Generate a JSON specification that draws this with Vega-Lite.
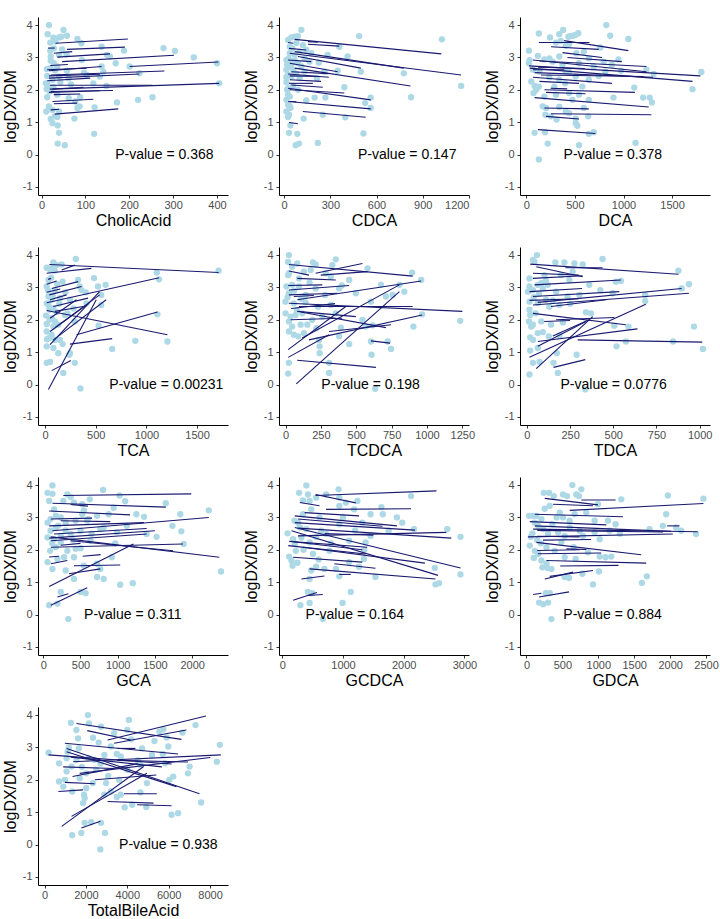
{
"$schema":"https://vega.github.io/schema/vega-lite/v6.json",
"padding":{"left":2,"top":17,"right":5,"bottom":5},
"bounds":"flush",
"columns":3,
"spacing":{"row":52,"column":51},
"config":{"view":{"stroke":null},"font":"Liberation Sans",
 "axis":{"grid":false,"labelOverlap":false,"tickCount":12,"domainColor":"#000000","tickColor":"#333333","labelColor":"#4d4d4d","labelFontSize":11,"titleFontSize":16,"titleFontWeight":"normal","titleColor":"#000000","tickSize":3,"labelPadding":1,"titlePadding":2,"labelFont":"Liberation Sans","titleFont":"Liberation Sans"},
 "axisY":{"labelPadding":3,"titlePadding":4},
 "text":{"font":"Liberation Sans"}},
"datasets":{
"p1":[{"x":17,"y":4.0},{"x":14,"y":3.72},{"x":50,"y":3.85},{"x":27,"y":3.61},{"x":40,"y":3.62},{"x":45,"y":3.64},{"x":58,"y":3.67},{"x":82,"y":3.57},{"x":20,"y":3.46},{"x":32,"y":3.49},{"x":91,"y":3.44},{"x":137,"y":3.33},{"x":20,"y":3.21},{"x":28,"y":3.28},{"x":47,"y":3.25},{"x":57,"y":3.1},{"x":40,"y":3.08},{"x":149,"y":3.08},{"x":156,"y":3.03},{"x":188,"y":3.21},{"x":278,"y":3.29},{"x":304,"y":3.2},{"x":347,"y":3.0},{"x":92,"y":2.92},{"x":21,"y":2.9},{"x":28,"y":2.82},{"x":12,"y":2.64},{"x":20,"y":2.67},{"x":36,"y":2.72},{"x":58,"y":2.59},{"x":97,"y":2.53},{"x":137,"y":2.72},{"x":169,"y":2.82},{"x":201,"y":2.72},{"x":223,"y":2.51},{"x":141,"y":2.56},{"x":400,"y":2.82},{"x":13,"y":2.43},{"x":25,"y":2.31},{"x":40,"y":2.41},{"x":62,"y":2.36},{"x":133,"y":2.41},{"x":13,"y":2.2},{"x":27,"y":2.08},{"x":43,"y":2.23},{"x":67,"y":2.17},{"x":148,"y":2.12},{"x":405,"y":2.2},{"x":12,"y":2.02},{"x":19,"y":1.95},{"x":13,"y":1.77},{"x":36,"y":1.85},{"x":62,"y":1.74},{"x":88,"y":1.77},{"x":77,"y":1.64},{"x":220,"y":1.69},{"x":253,"y":1.77},{"x":172,"y":1.61},{"x":17,"y":1.49},{"x":87,"y":1.49},{"x":82,"y":1.44},{"x":121,"y":1.46},{"x":11,"y":1.33},{"x":25,"y":1.38},{"x":40,"y":1.33},{"x":30,"y":1.18},{"x":36,"y":1.16},{"x":21,"y":1.1},{"x":75,"y":1.11},{"x":25,"y":0.97},{"x":37,"y":0.9},{"x":40,"y":0.67},{"x":120,"y":0.64},{"x":37,"y":0.34},{"x":53,"y":0.29},{"x":21,"y":3.03},{"x":13,"y":2.05},{"x":10,"y":2.2},{"x":103,"y":2.46},{"x":118,"y":2.2},{"x":21,"y":2.02},{"x":31,"y":2.6}],
"l1":[{"x":32,"y":3.44,"x2":197,"y2":3.57},{"x":58,"y":3.25,"x2":190,"y2":3.32},{"x":36,"y":3.01,"x2":156,"y2":3.11},{"x":47,"y":2.87,"x2":302,"y2":3.07},{"x":201,"y":2.72,"x2":403,"y2":2.86},{"x":17,"y":2.59,"x2":137,"y2":2.72},{"x":21,"y":2.46,"x2":280,"y2":2.58},{"x":17,"y":2.36,"x2":223,"y2":2.49},{"x":13,"y":2.28,"x2":111,"y2":2.36},{"x":19,"y":2.14,"x2":253,"y2":2.14},{"x":19,"y":2.02,"x2":405,"y2":2.2},{"x":17,"y":1.92,"x2":133,"y2":1.97},{"x":28,"y":1.85,"x2":88,"y2":1.87},{"x":25,"y":1.64,"x2":118,"y2":1.71},{"x":28,"y":1.57,"x2":81,"y2":1.59},{"x":21,"y":1.38,"x2":40,"y2":1.4},{"x":30,"y":1.25,"x2":175,"y2":1.41},{"x":17,"y":2.43,"x2":133,"y2":2.48},{"x":25,"y":2.02,"x2":96,"y2":2.08},{"x":13,"y":2.62,"x2":103,"y2":2.67},{"x":28,"y":3.13,"x2":70,"y2":3.18},{"x":21,"y":1.95,"x2":163,"y2":1.98},{"x":15,"y":3.29,"x2":30,"y2":3.29},{"x":20,"y":2.75,"x2":60,"y2":2.78}],
"p2":[{"x":112,"y":3.85},{"x":26,"y":3.54},{"x":47,"y":3.62},{"x":69,"y":3.64},{"x":90,"y":3.66},{"x":487,"y":3.66},{"x":1024,"y":3.56},{"x":359,"y":3.33},{"x":37,"y":3.33},{"x":122,"y":3.38},{"x":144,"y":3.23},{"x":412,"y":3.03},{"x":165,"y":2.87},{"x":225,"y":2.84},{"x":15,"y":2.62},{"x":262,"y":2.56},{"x":348,"y":2.59},{"x":498,"y":2.56},{"x":777,"y":2.51},{"x":213,"y":2.36},{"x":26,"y":2.05},{"x":15,"y":2.23},{"x":391,"y":2.08},{"x":1149,"y":2.12},{"x":37,"y":1.79},{"x":198,"y":1.76},{"x":268,"y":1.76},{"x":562,"y":1.76},{"x":824,"y":1.77},{"x":144,"y":1.67},{"x":26,"y":1.54},{"x":41,"y":1.44},{"x":15,"y":1.33},{"x":526,"y":1.59},{"x":562,"y":1.44},{"x":32,"y":1.23},{"x":251,"y":1.23},{"x":26,"y":1.16},{"x":127,"y":1.11},{"x":397,"y":1.15},{"x":41,"y":0.9},{"x":32,"y":0.67},{"x":86,"y":0.64},{"x":515,"y":0.65},{"x":75,"y":0.29},{"x":97,"y":0.34},{"x":219,"y":0.36},{"x":15,"y":2.92},{"x":32,"y":2.87},{"x":54,"y":2.82},{"x":69,"y":2.92},{"x":90,"y":2.82},{"x":112,"y":2.72},{"x":26,"y":2.46},{"x":47,"y":2.41},{"x":79,"y":2.49},{"x":101,"y":2.36},{"x":133,"y":2.56},{"x":58,"y":2.12},{"x":19,"y":2.0},{"x":90,"y":2.0},{"x":15,"y":1.69},{"x":101,"y":3.18},{"x":69,"y":3.08},{"x":37,"y":3.13},{"x":176,"y":3.13},{"x":133,"y":2.97},{"x":283,"y":3.08},{"x":15,"y":2.39},{"x":54,"y":3.28},{"x":30,"y":2.97},{"x":45,"y":2.7},{"x":60,"y":2.6},{"x":20,"y":2.78},{"x":80,"y":3.45},{"x":35,"y":1.5},{"x":25,"y":1.85}],
"l2":[{"x":155,"y":3.49,"x2":219,"y2":3.47},{"x":69,"y":3.56,"x2":1020,"y2":3.11},{"x":155,"y":3.41,"x2":358,"y2":3.35},{"x":37,"y":3.13,"x2":1149,"y2":2.46},{"x":69,"y":3.18,"x2":777,"y2":2.67},{"x":90,"y":3.03,"x2":498,"y2":2.67},{"x":37,"y":2.82,"x2":348,"y2":2.56},{"x":69,"y":2.67,"x2":820,"y2":2.12},{"x":47,"y":2.56,"x2":290,"y2":2.5},{"x":26,"y":2.49,"x2":290,"y2":2.39},{"x":37,"y":2.31,"x2":240,"y2":2.26},{"x":26,"y":2.05,"x2":562,"y2":1.69},{"x":37,"y":2.0,"x2":391,"y2":1.9},{"x":26,"y":1.64,"x2":562,"y2":1.41},{"x":122,"y":1.33,"x2":530,"y2":1.15},{"x":32,"y":0.99,"x2":90,"y2":0.95},{"x":47,"y":2.15,"x2":251,"y2":2.08},{"x":26,"y":2.92,"x2":176,"y2":2.87},{"x":32,"y":3.28,"x2":144,"y2":3.23},{"x":37,"y":2.43,"x2":230,"y2":2.41},{"x":32,"y":2.2,"x2":187,"y2":2.2},{"x":37,"y":1.64,"x2":80,"y2":1.63},{"x":26,"y":3.46,"x2":60,"y2":3.44}],
"p3":[{"x":823,"y":4.0},{"x":129,"y":3.74},{"x":244,"y":3.62},{"x":339,"y":3.72},{"x":379,"y":3.85},{"x":433,"y":3.64},{"x":455,"y":3.66},{"x":480,"y":3.67},{"x":508,"y":3.7},{"x":535,"y":3.75},{"x":863,"y":3.67},{"x":1050,"y":3.57},{"x":27,"y":3.21},{"x":305,"y":3.46},{"x":355,"y":3.51},{"x":406,"y":3.36},{"x":440,"y":3.41},{"x":762,"y":3.31},{"x":119,"y":3.05},{"x":186,"y":2.94},{"x":237,"y":2.97},{"x":27,"y":2.82},{"x":68,"y":2.62},{"x":51,"y":2.26},{"x":85,"y":2.12},{"x":102,"y":2.0},{"x":74,"y":1.9},{"x":129,"y":2.1},{"x":186,"y":1.79},{"x":169,"y":1.49},{"x":203,"y":1.44},{"x":196,"y":1.23},{"x":254,"y":1.18},{"x":339,"y":1.47},{"x":311,"y":1.08},{"x":406,"y":1.33},{"x":440,"y":1.28},{"x":508,"y":0.97},{"x":525,"y":0.89},{"x":508,"y":1.11},{"x":637,"y":1.18},{"x":592,"y":1.44},{"x":474,"y":1.69},{"x":643,"y":1.69},{"x":440,"y":1.9},{"x":400,"y":2.2},{"x":897,"y":1.76},{"x":1202,"y":1.76},{"x":1270,"y":1.76},{"x":1293,"y":1.61},{"x":1111,"y":2.07},{"x":1710,"y":2.02},{"x":1801,"y":2.55},{"x":1236,"y":2.62},{"x":1310,"y":2.49},{"x":975,"y":2.59},{"x":85,"y":0.67},{"x":193,"y":0.69},{"x":220,"y":0.34},{"x":694,"y":0.69},{"x":643,"y":0.64},{"x":542,"y":0.29},{"x":1124,"y":0.36},{"x":129,"y":-0.15},{"x":271,"y":2.87},{"x":372,"y":2.77},{"x":542,"y":2.82},{"x":694,"y":2.72},{"x":813,"y":2.56},{"x":880,"y":2.77},{"x":508,"y":2.41},{"x":643,"y":2.31},{"x":745,"y":2.43},{"x":339,"y":2.31},{"x":440,"y":2.56},{"x":237,"y":2.39},{"x":288,"y":2.1},{"x":135,"y":2.56},{"x":576,"y":2.1},{"x":643,"y":2.97},{"x":515,"y":3.13},{"x":592,"y":3.18},{"x":948,"y":2.94},{"x":796,"y":2.87},{"x":34,"y":2.92},{"x":339,"y":3.03},{"x":406,"y":2.56},{"x":305,"y":1.85},{"x":542,"y":1.85}],
"l3":[{"x":129,"y":3.46,"x2":650,"y2":3.46},{"x":389,"y":3.52,"x2":1050,"y2":3.21},{"x":254,"y":3.33,"x2":745,"y2":3.25},{"x":372,"y":3.15,"x2":779,"y2":3.0},{"x":423,"y":3.0,"x2":982,"y2":2.87},{"x":135,"y":2.89,"x2":1236,"y2":2.72},{"x":68,"y":2.92,"x2":1236,"y2":2.56},{"x":27,"y":2.74,"x2":1791,"y2":2.43},{"x":34,"y":2.67,"x2":1710,"y2":2.26},{"x":85,"y":2.53,"x2":1304,"y2":2.39},{"x":152,"y":2.46,"x2":1202,"y2":2.41},{"x":68,"y":2.39,"x2":880,"y2":2.2},{"x":135,"y":2.26,"x2":542,"y2":2.2},{"x":186,"y":2.0,"x2":1117,"y2":1.92},{"x":203,"y":1.92,"x2":609,"y2":1.88},{"x":85,"y":1.76,"x2":1260,"y2":1.47},{"x":186,"y":1.44,"x2":643,"y2":1.41},{"x":254,"y":1.26,"x2":1287,"y2":1.23},{"x":119,"y":0.77,"x2":711,"y2":0.65},{"x":203,"y":1.18,"x2":542,"y2":1.1},{"x":68,"y":2.62,"x2":390,"y2":2.62},{"x":250,"y":2.05,"x2":420,"y2":2.03},{"x":120,"y":2.7,"x2":600,"y2":2.66}],
"p4":[{"x":303,"y":3.88},{"x":16,"y":3.61},{"x":82,"y":3.77},{"x":114,"y":3.69},{"x":163,"y":3.71},{"x":50,"y":3.55},{"x":70,"y":3.6},{"x":95,"y":3.52},{"x":1712,"y":3.52},{"x":1102,"y":3.46},{"x":1125,"y":3.25},{"x":483,"y":3.29},{"x":326,"y":3.23},{"x":33,"y":3.23},{"x":16,"y":3.03},{"x":98,"y":2.92},{"x":173,"y":3.18},{"x":342,"y":3.03},{"x":522,"y":3.03},{"x":597,"y":3.08},{"x":401,"y":2.85},{"x":554,"y":2.77},{"x":359,"y":2.92},{"x":33,"y":2.72},{"x":65,"y":2.62},{"x":147,"y":2.67},{"x":245,"y":2.62},{"x":16,"y":2.51},{"x":42,"y":2.31},{"x":10,"y":2.13},{"x":65,"y":2.05},{"x":114,"y":2.24},{"x":16,"y":1.87},{"x":82,"y":1.79},{"x":130,"y":1.85},{"x":293,"y":1.95},{"x":528,"y":1.82},{"x":1109,"y":2.17},{"x":16,"y":1.64},{"x":65,"y":1.54},{"x":98,"y":1.38},{"x":42,"y":1.44},{"x":147,"y":1.38},{"x":16,"y":1.18},{"x":82,"y":1.13},{"x":130,"y":0.97},{"x":245,"y":0.97},{"x":173,"y":1.25},{"x":890,"y":1.35},{"x":1207,"y":1.33},{"x":662,"y":1.1},{"x":16,"y":0.67},{"x":49,"y":0.7},{"x":179,"y":0.36},{"x":293,"y":0.67},{"x":238,"y":0.92},{"x":349,"y":-0.12},{"x":554,"y":2.46},{"x":408,"y":2.51},{"x":33,"y":2.46},{"x":82,"y":2.36},{"x":98,"y":1.95},{"x":196,"y":2.15},{"x":60,"y":3.3},{"x":120,"y":3.1},{"x":200,"y":2.85},{"x":30,"y":2.9},{"x":75,"y":2.75},{"x":140,"y":2.5},{"x":45,"y":2.0},{"x":20,"y":1.4},{"x":220,"y":2.2},{"x":280,"y":2.35}],
"l4":[{"x":42,"y":3.71,"x2":1712,"y2":3.46},{"x":163,"y":3.54,"x2":293,"y2":3.69},{"x":16,"y":3.44,"x2":457,"y2":3.59},{"x":16,"y":3.1,"x2":114,"y2":3.2},{"x":42,"y":2.77,"x2":359,"y2":3.03},{"x":16,"y":2.53,"x2":1125,"y2":3.3},{"x":16,"y":2.29,"x2":1207,"y2":1.54},{"x":49,"y":2.05,"x2":310,"y2":2.62},{"x":82,"y":1.38,"x2":603,"y2":2.62},{"x":33,"y":-0.15,"x2":505,"y2":2.62},{"x":65,"y":0.43,"x2":254,"y2":0.74},{"x":245,"y":1.25,"x2":662,"y2":1.42},{"x":310,"y":1.54,"x2":1109,"y2":2.24},{"x":49,"y":1.23,"x2":538,"y2":2.87},{"x":98,"y":1.76,"x2":538,"y2":2.77},{"x":82,"y":2.41,"x2":424,"y2":2.67},{"x":49,"y":2.62,"x2":212,"y2":2.77},{"x":65,"y":2.97,"x2":326,"y2":3.18},{"x":98,"y":2.26,"x2":375,"y2":2.41},{"x":49,"y":1.64,"x2":408,"y2":2.46},{"x":16,"y":2.85,"x2":150,"y2":2.95},{"x":30,"y":3.25,"x2":60,"y2":3.28}],
"p5":[{"x":24,"y":4.0},{"x":19,"y":3.79},{"x":47,"y":3.64},{"x":83,"y":3.74},{"x":194,"y":3.77},{"x":213,"y":3.71},{"x":355,"y":3.87},{"x":331,"y":3.69},{"x":580,"y":3.59},{"x":895,"y":3.46},{"x":959,"y":3.23},{"x":19,"y":3.38},{"x":130,"y":3.49},{"x":178,"y":3.54},{"x":284,"y":3.44},{"x":320,"y":3.33},{"x":450,"y":3.23},{"x":7,"y":3.03},{"x":47,"y":3.08},{"x":95,"y":3.03},{"x":213,"y":2.97},{"x":379,"y":2.97},{"x":398,"y":3.06},{"x":675,"y":3.08},{"x":805,"y":3.08},{"x":24,"y":2.82},{"x":142,"y":2.77},{"x":279,"y":2.77},{"x":497,"y":2.82},{"x":710,"y":2.72},{"x":840,"y":2.87},{"x":0,"y":2.56},{"x":59,"y":2.51},{"x":142,"y":2.54},{"x":320,"y":2.46},{"x":604,"y":2.56},{"x":0,"y":2.2},{"x":36,"y":2.1},{"x":71,"y":2.15},{"x":118,"y":2.2},{"x":189,"y":2.0},{"x":260,"y":2.1},{"x":355,"y":2.2},{"x":544,"y":2.0},{"x":966,"y":2.17},{"x":1235,"y":1.97},{"x":24,"y":1.95},{"x":47,"y":1.79},{"x":107,"y":1.85},{"x":154,"y":1.85},{"x":218,"y":1.74},{"x":391,"y":1.76},{"x":568,"y":1.79},{"x":616,"y":1.83},{"x":904,"y":1.79},{"x":24,"y":1.64},{"x":59,"y":1.54},{"x":90,"y":1.49},{"x":130,"y":1.59},{"x":379,"y":1.49},{"x":237,"y":1.38},{"x":450,"y":1.25},{"x":604,"y":1.33},{"x":722,"y":1.33},{"x":241,"y":1.18},{"x":241,"y":0.97},{"x":608,"y":0.92},{"x":746,"y":1.1},{"x":24,"y":0.67},{"x":308,"y":0.67},{"x":19,"y":0.34},{"x":308,"y":0.36},{"x":634,"y":-0.13},{"x":24,"y":3.44},{"x":95,"y":3.28},{"x":757,"y":2.77},{"x":60,"y":2.9},{"x":110,"y":2.65},{"x":170,"y":3.15},{"x":230,"y":2.4},{"x":80,"y":2.3},{"x":15,"y":2.7}],
"l5":[{"x":24,"y":3.71,"x2":899,"y2":3.35},{"x":24,"y":3.51,"x2":166,"y2":3.38},{"x":213,"y":3.44,"x2":544,"y2":3.74},{"x":249,"y":3.38,"x2":580,"y2":3.49},{"x":83,"y":3.28,"x2":355,"y2":3.23},{"x":19,"y":3.06,"x2":260,"y2":3.08},{"x":24,"y":2.92,"x2":450,"y2":3.06},{"x":24,"y":2.77,"x2":367,"y2":2.82},{"x":83,"y":2.62,"x2":959,"y2":3.2},{"x":24,"y":2.51,"x2":1250,"y2":2.26},{"x":95,"y":2.41,"x2":899,"y2":2.41},{"x":107,"y":2.24,"x2":710,"y2":1.76},{"x":83,"y":2.26,"x2":497,"y2":2.1},{"x":118,"y":1.44,"x2":805,"y2":3.08},{"x":76,"y":0.02,"x2":805,"y2":2.87},{"x":19,"y":1.08,"x2":426,"y2":2.41},{"x":19,"y":0.84,"x2":308,"y2":1.54},{"x":83,"y":0.75,"x2":639,"y2":0.53},{"x":604,"y":1.35,"x2":739,"y2":1.28},{"x":166,"y":1.38,"x2":966,"y2":2.15},{"x":308,"y":1.64,"x2":746,"y2":1.85},{"x":36,"y":2.0,"x2":400,"y2":2.05},{"x":59,"y":2.72,"x2":200,"y2":2.75},{"x":40,"y":2.35,"x2":350,"y2":2.5}],
"p6":[{"x":58,"y":4.0},{"x":44,"y":3.79},{"x":35,"y":3.85},{"x":165,"y":3.77},{"x":217,"y":3.77},{"x":275,"y":3.74},{"x":323,"y":3.71},{"x":438,"y":3.88},{"x":877,"y":3.52},{"x":938,"y":3.1},{"x":896,"y":2.97},{"x":544,"y":3.2},{"x":515,"y":3.18},{"x":15,"y":3.28},{"x":6,"y":2.87},{"x":15,"y":3.03},{"x":35,"y":2.92},{"x":63,"y":3.08},{"x":92,"y":2.97},{"x":121,"y":3.08},{"x":169,"y":2.87},{"x":236,"y":2.72},{"x":304,"y":2.77},{"x":361,"y":3.08},{"x":425,"y":2.92},{"x":496,"y":2.82},{"x":685,"y":2.77},{"x":685,"y":2.58},{"x":15,"y":2.56},{"x":63,"y":2.51},{"x":111,"y":2.62},{"x":188,"y":2.46},{"x":15,"y":2.31},{"x":19,"y":2.15},{"x":12,"y":1.95},{"x":35,"y":1.85},{"x":25,"y":1.79},{"x":83,"y":1.95},{"x":140,"y":1.85},{"x":342,"y":2.23},{"x":371,"y":2.2},{"x":208,"y":1.92},{"x":506,"y":1.82},{"x":588,"y":1.79},{"x":967,"y":1.79},{"x":19,"y":1.46},{"x":35,"y":1.38},{"x":63,"y":1.59},{"x":92,"y":1.62},{"x":127,"y":1.49},{"x":188,"y":1.51},{"x":573,"y":1.33},{"x":846,"y":1.33},{"x":1019,"y":1.1},{"x":519,"y":1.18},{"x":19,"y":1.05},{"x":63,"y":1.13},{"x":173,"y":0.97},{"x":288,"y":0.92},{"x":35,"y":0.67},{"x":73,"y":0.7},{"x":154,"y":0.67},{"x":15,"y":0.31},{"x":179,"y":0.36},{"x":338,"y":-0.15},{"x":83,"y":3.13},{"x":246,"y":3.23},{"x":198,"y":3.38},{"x":265,"y":3.49},{"x":102,"y":3.38},{"x":40,"y":2.7},{"x":70,"y":2.8},{"x":130,"y":2.4},{"x":250,"y":2.5},{"x":50,"y":2.2},{"x":110,"y":3.2},{"x":150,"y":2.6}],
"l6":[{"x":19,"y":3.72,"x2":877,"y2":3.41},{"x":223,"y":3.61,"x2":438,"y2":3.61},{"x":54,"y":3.64,"x2":323,"y2":3.33},{"x":35,"y":3.44,"x2":300,"y2":3.38},{"x":35,"y":3.28,"x2":323,"y2":3.36},{"x":44,"y":3.08,"x2":544,"y2":3.23},{"x":15,"y":2.87,"x2":319,"y2":2.97},{"x":35,"y":2.72,"x2":535,"y2":2.87},{"x":63,"y":2.54,"x2":896,"y2":2.97},{"x":35,"y":2.46,"x2":938,"y2":2.82},{"x":140,"y":2.41,"x2":458,"y2":2.62},{"x":35,"y":2.2,"x2":573,"y2":1.85},{"x":169,"y":2.0,"x2":506,"y2":2.07},{"x":15,"y":0.84,"x2":688,"y2":2.48},{"x":54,"y":0.49,"x2":381,"y2":2.1},{"x":63,"y":1.33,"x2":640,"y2":1.72},{"x":294,"y":1.38,"x2":1015,"y2":1.31},{"x":154,"y":0.53,"x2":338,"y2":0.77},{"x":63,"y":1.18,"x2":342,"y2":1.95},{"x":150,"y":1.5,"x2":360,"y2":2.0},{"x":15,"y":2.6,"x2":300,"y2":2.65},{"x":100,"y":1.95,"x2":250,"y2":1.98}],
"p7":[{"x":58,"y":3.76},{"x":124,"y":3.99},{"x":124,"y":3.73},{"x":80,"y":3.51},{"x":324,"y":3.71},{"x":368,"y":3.63},{"x":625,"y":3.56},{"x":803,"y":3.85},{"x":1024,"y":3.68},{"x":270,"y":3.51},{"x":413,"y":3.46},{"x":523,"y":3.41},{"x":1645,"y":3.44},{"x":945,"y":3.3},{"x":1353,"y":3.02},{"x":1840,"y":3.1},{"x":2222,"y":3.22},{"x":58,"y":2.84},{"x":98,"y":2.95},{"x":169,"y":3.05},{"x":235,"y":3.0},{"x":302,"y":2.84},{"x":435,"y":2.9},{"x":523,"y":3.1},{"x":590,"y":2.9},{"x":723,"y":3.05},{"x":878,"y":3.1},{"x":98,"y":2.59},{"x":169,"y":2.69},{"x":58,"y":2.38},{"x":146,"y":2.33},{"x":235,"y":2.43},{"x":368,"y":2.49},{"x":501,"y":2.59},{"x":634,"y":2.28},{"x":767,"y":2.64},{"x":989,"y":2.54},{"x":1388,"y":2.49},{"x":1521,"y":2.4},{"x":1854,"y":2.57},{"x":1734,"y":2.74},{"x":93,"y":1.97},{"x":169,"y":2.08},{"x":235,"y":2.23},{"x":324,"y":1.97},{"x":435,"y":2.03},{"x":501,"y":2.05},{"x":967,"y":2.2},{"x":1885,"y":2.18},{"x":58,"y":1.62},{"x":124,"y":1.41},{"x":191,"y":1.72},{"x":280,"y":1.77},{"x":413,"y":1.77},{"x":546,"y":1.51},{"x":723,"y":1.57},{"x":922,"y":1.77},{"x":767,"y":1.41},{"x":302,"y":1.36},{"x":413,"y":1.1},{"x":723,"y":1.16},{"x":811,"y":1.1},{"x":1033,"y":0.92},{"x":1202,"y":0.97},{"x":2386,"y":1.33},{"x":235,"y":0.7},{"x":501,"y":0.7},{"x":568,"y":0.66},{"x":80,"y":0.29},{"x":191,"y":0.34},{"x":337,"y":-0.14},{"x":146,"y":3.25},{"x":546,"y":3.22},{"x":603,"y":2.95},{"x":811,"y":2.69},{"x":1122,"y":2.74},{"x":200,"y":2.75},{"x":120,"y":2.2},{"x":400,"y":2.3},{"x":650,"y":2.5},{"x":300,"y":2.6},{"x":1250,"y":3.1},{"x":1100,"y":3.5}],
"l7":[{"x":270,"y":3.68,"x2":1987,"y2":3.73},{"x":124,"y":3.44,"x2":1645,"y2":3.32},{"x":368,"y":3.4,"x2":600,"y2":3.35},{"x":80,"y":3.2,"x2":1167,"y2":3.08},{"x":102,"y":2.95,"x2":656,"y2":2.98},{"x":235,"y":2.9,"x2":900,"y2":2.87},{"x":80,"y":2.74,"x2":1353,"y2":2.84},{"x":124,"y":2.59,"x2":2222,"y2":3.0},{"x":146,"y":2.49,"x2":1388,"y2":2.66},{"x":80,"y":2.36,"x2":1499,"y2":2.59},{"x":102,"y":2.28,"x2":1388,"y2":2.49},{"x":102,"y":2.4,"x2":2364,"y2":1.77},{"x":368,"y":2.28,"x2":1743,"y2":1.97},{"x":102,"y":2.08,"x2":1876,"y2":2.18},{"x":102,"y":1.57,"x2":324,"y2":1.67},{"x":80,"y":0.87,"x2":1211,"y2":2.18},{"x":102,"y":0.29,"x2":590,"y2":0.83},{"x":413,"y":1.51,"x2":1033,"y2":1.53},{"x":346,"y":1.26,"x2":767,"y2":1.41},{"x":191,"y":0.54,"x2":337,"y2":0.64},{"x":80,"y":1.78,"x2":210,"y2":1.8},{"x":530,"y":1.8,"x2":770,"y2":1.85},{"x":235,"y":2.14,"x2":500,"y2":2.2}],
"p8":[{"x":87,"y":2.51},{"x":114,"y":1.79},{"x":152,"y":1.67},{"x":168,"y":1.51},{"x":179,"y":2.33},{"x":206,"y":2.18},{"x":222,"y":1.97},{"x":260,"y":2.84},{"x":288,"y":2.69},{"x":277,"y":3.76},{"x":396,"y":3.99},{"x":423,"y":3.71},{"x":450,"y":3.51},{"x":342,"y":3.53},{"x":477,"y":3.25},{"x":559,"y":3.61},{"x":722,"y":3.71},{"x":928,"y":3.87},{"x":939,"y":3.61},{"x":1047,"y":3.46},{"x":1237,"y":3.51},{"x":939,"y":3.36},{"x":1183,"y":3.25},{"x":1454,"y":3.1},{"x":1633,"y":3.32},{"x":1655,"y":3.1},{"x":1888,"y":3.0},{"x":315,"y":2.38},{"x":396,"y":2.64},{"x":450,"y":2.23},{"x":505,"y":1.87},{"x":559,"y":1.48},{"x":477,"y":1.36},{"x":450,"y":1.1},{"x":694,"y":1.41},{"x":884,"y":1.41},{"x":939,"y":1.18},{"x":1101,"y":1.62},{"x":1264,"y":1.48},{"x":1345,"y":1.72},{"x":1373,"y":2.23},{"x":1454,"y":2.43},{"x":1535,"y":1.16},{"x":1752,"y":2.59},{"x":1976,"y":2.84},{"x":2170,"y":2.64},{"x":2718,"y":2.64},{"x":2935,"y":2.4},{"x":2935,"y":1.24},{"x":2512,"y":1.44},{"x":2523,"y":0.93},{"x":2582,"y":0.97},{"x":2121,"y":3.66},{"x":1128,"y":0.7},{"x":993,"y":0.36},{"x":423,"y":0.7},{"x":494,"y":0.66},{"x":450,"y":0.36},{"x":298,"y":0.29},{"x":667,"y":-0.14},{"x":722,"y":2.49},{"x":939,"y":2.79},{"x":1101,"y":2.28},{"x":776,"y":1.97},{"x":613,"y":3.0},{"x":342,"y":3.1},{"x":640,"y":2.59},{"x":1318,"y":2.84},{"x":200,"y":2.9},{"x":350,"y":2.0},{"x":560,"y":2.4},{"x":800,"y":2.2},{"x":1000,"y":3.0},{"x":1200,"y":2.6},{"x":600,"y":1.7},{"x":250,"y":1.6},{"x":1350,"y":2.0}],
"l8":[{"x":548,"y":3.68,"x2":2539,"y2":3.82},{"x":548,"y":3.71,"x2":1210,"y2":3.45},{"x":288,"y":3.46,"x2":613,"y2":3.36},{"x":722,"y":3.25,"x2":2121,"y2":3.27},{"x":369,"y":3.15,"x2":1264,"y2":3.05},{"x":206,"y":3.05,"x2":1888,"y2":2.74},{"x":260,"y":2.95,"x2":1650,"y2":2.73},{"x":206,"y":2.84,"x2":2186,"y2":2.61},{"x":206,"y":2.69,"x2":2935,"y2":1.44},{"x":152,"y":2.59,"x2":2566,"y2":1.21},{"x":260,"y":2.67,"x2":2783,"y2":2.36},{"x":260,"y":2.43,"x2":2702,"y2":2.54},{"x":114,"y":2.26,"x2":1400,"y2":2.08},{"x":98,"y":2.13,"x2":1373,"y2":1.87},{"x":342,"y":2.08,"x2":2349,"y2":1.59},{"x":179,"y":1.77,"x2":1318,"y2":1.62},{"x":450,"y":1.41,"x2":2523,"y2":1.1},{"x":857,"y":1.57,"x2":1535,"y2":1.43},{"x":315,"y":1.1,"x2":694,"y2":1.19},{"x":179,"y":0.44,"x2":570,"y2":0.68},{"x":423,"y":0.59,"x2":667,"y2":0.62},{"x":939,"y":1.24,"x2":1128,"y2":1.24},{"x":700,"y":2.5,"x2":1500,"y2":2.45},{"x":179,"y":2.25,"x2":1318,"y2":2.0}],
"p9":[{"x":37,"y":3.05},{"x":93,"y":3.05},{"x":46,"y":2.13},{"x":83,"y":2.51},{"x":116,"y":2.84},{"x":139,"y":3.05},{"x":162,"y":2.74},{"x":208,"y":2.95},{"x":232,"y":2.64},{"x":116,"y":1.97},{"x":102,"y":1.75},{"x":162,"y":1.87},{"x":208,"y":1.67},{"x":222,"y":1.46},{"x":278,"y":1.57},{"x":255,"y":3.27},{"x":241,"y":3.76},{"x":315,"y":3.76},{"x":380,"y":3.66},{"x":509,"y":3.71},{"x":565,"y":3.66},{"x":639,"y":4.0},{"x":694,"y":3.71},{"x":731,"y":3.66},{"x":764,"y":3.87},{"x":995,"y":3.41},{"x":1320,"y":3.56},{"x":1968,"y":3.68},{"x":1945,"y":3.1},{"x":2463,"y":3.58},{"x":324,"y":3.36},{"x":463,"y":3.15},{"x":509,"y":3.0},{"x":671,"y":3.1},{"x":833,"y":3.15},{"x":949,"y":2.9},{"x":1134,"y":2.9},{"x":1241,"y":2.79},{"x":361,"y":2.79},{"x":440,"y":2.54},{"x":602,"y":2.69},{"x":741,"y":2.59},{"x":949,"y":2.54},{"x":1157,"y":2.59},{"x":1713,"y":2.64},{"x":1898,"y":2.74},{"x":2083,"y":2.69},{"x":2153,"y":2.59},{"x":2361,"y":2.49},{"x":787,"y":2.43},{"x":486,"y":2.23},{"x":657,"y":2.08},{"x":1019,"y":2.33},{"x":856,"y":1.92},{"x":532,"y":1.77},{"x":685,"y":1.72},{"x":1019,"y":1.79},{"x":1102,"y":1.77},{"x":1181,"y":1.79},{"x":292,"y":1.44},{"x":347,"y":1.41},{"x":532,"y":1.16},{"x":593,"y":1.13},{"x":778,"y":1.26},{"x":926,"y":0.93},{"x":1009,"y":1.33},{"x":1607,"y":0.98},{"x":1676,"y":1.18},{"x":269,"y":0.66},{"x":324,"y":0.66},{"x":176,"y":0.37},{"x":232,"y":0.32},{"x":301,"y":0.37},{"x":347,"y":-0.14},{"x":394,"y":1.97},{"x":532,"y":2.43},{"x":278,"y":2.08},{"x":60,"y":2.4},{"x":150,"y":2.3},{"x":300,"y":2.5},{"x":420,"y":3.0},{"x":600,"y":2.9},{"x":200,"y":2.2},{"x":1300,"y":2.5}],
"l9":[{"x":255,"y":3.59,"x2":995,"y2":3.39},{"x":764,"y":3.54,"x2":1241,"y2":3.54},{"x":370,"y":3.41,"x2":926,"y2":3.36},{"x":602,"y":3.22,"x2":2463,"y2":3.43},{"x":116,"y":3.1,"x2":1343,"y2":3.02},{"x":46,"y":2.87,"x2":1111,"y2":2.77},{"x":116,"y":2.74,"x2":2014,"y2":2.57},{"x":93,"y":2.64,"x2":2384,"y2":2.56},{"x":150,"y":2.6,"x2":1900,"y2":2.55},{"x":23,"y":2.4,"x2":2037,"y2":2.49},{"x":150,"y":2.42,"x2":740,"y2":2.4},{"x":139,"y":2.23,"x2":1597,"y2":1.85},{"x":150,"y":1.98,"x2":740,"y2":2.0},{"x":278,"y":1.67,"x2":1667,"y2":1.59},{"x":160,"y":1.88,"x2":1040,"y2":1.9},{"x":470,"y":1.5,"x2":1280,"y2":1.52},{"x":255,"y":1.1,"x2":648,"y2":1.31},{"x":324,"y":1.18,"x2":926,"y2":1.36},{"x":93,"y":0.62,"x2":208,"y2":0.66},{"x":176,"y":0.54,"x2":593,"y2":0.7},{"x":556,"y":2.03,"x2":833,"y2":2.01},{"x":1959,"y":2.74,"x2":2130,"y2":2.74},{"x":230,"y":2.3,"x2":900,"y2":2.32}],
"p10":[{"x":190,"y":2.84},{"x":698,"y":2.51},{"x":698,"y":1.95},{"x":904,"y":1.79},{"x":983,"y":2.0},{"x":1063,"y":2.26},{"x":1110,"y":2.87},{"x":1270,"y":3.76},{"x":1301,"y":2.41},{"x":1333,"y":1.64},{"x":1539,"y":3.54},{"x":1618,"y":3.28},{"x":1650,"y":2.97},{"x":1697,"y":2.05},{"x":1857,"y":1.28},{"x":1936,"y":1.44},{"x":1905,"y":1.54},{"x":2015,"y":2.2},{"x":2095,"y":4.0},{"x":2142,"y":3.74},{"x":2126,"y":2.67},{"x":2332,"y":1.9},{"x":2491,"y":2.31},{"x":2618,"y":3.15},{"x":2729,"y":3.64},{"x":2888,"y":1.54},{"x":3078,"y":2.12},{"x":3205,"y":1.64},{"x":3490,"y":2.8},{"x":3363,"y":3.44},{"x":3490,"y":1.47},{"x":3681,"y":1.54},{"x":3871,"y":1.15},{"x":4077,"y":3.85},{"x":3998,"y":3.54},{"x":4189,"y":3.25},{"x":4237,"y":1.23},{"x":4633,"y":1.61},{"x":4918,"y":1.16},{"x":5189,"y":2.77},{"x":5553,"y":3.49},{"x":5743,"y":3.56},{"x":5903,"y":3.31},{"x":5712,"y":2.8},{"x":5824,"y":2.51},{"x":5982,"y":3.03},{"x":6141,"y":0.92},{"x":6458,"y":0.97},{"x":6664,"y":3.46},{"x":7013,"y":2.41},{"x":6934,"y":2.2},{"x":7299,"y":3.69},{"x":7569,"y":1.3},{"x":8330,"y":2.56},{"x":8473,"y":3.08},{"x":1333,"y":0.29},{"x":1777,"y":0.36},{"x":1936,"y":0.67},{"x":2253,"y":0.69},{"x":2729,"y":0.67},{"x":2919,"y":0.36},{"x":2697,"y":-0.15},{"x":2015,"y":1.74},{"x":2412,"y":2.62},{"x":2888,"y":2.77},{"x":3205,"y":3.03},{"x":4633,"y":2.46},{"x":6030,"y":2.0},{"x":6220,"y":2.1},{"x":4712,"y":2.97},{"x":4950,"y":1.9},{"x":3998,"y":2.31},{"x":3681,"y":2.72},{"x":1539,"y":2.62},{"x":1063,"y":2.67},{"x":1171,"y":3.0},{"x":1801,"y":2.4},{"x":2702,"y":2.5},{"x":3602,"y":2.0},{"x":4503,"y":2.6},{"x":5313,"y":3.2},{"x":2341,"y":3.3},{"x":2972,"y":1.9}],
"l10":[{"x":1539,"y":3.74,"x2":6617,"y2":3.25},{"x":2062,"y":3.52,"x2":4157,"y2":3.23},{"x":3046,"y":3.23,"x2":7806,"y2":3.97},{"x":3363,"y":3.13,"x2":6855,"y2":3.54},{"x":983,"y":3.13,"x2":6458,"y2":2.8},{"x":190,"y":2.77,"x2":6141,"y2":2.49},{"x":1063,"y":2.97,"x2":7489,"y2":1.57},{"x":1063,"y":2.87,"x2":6378,"y2":1.79},{"x":1261,"y":2.7,"x2":5673,"y2":2.4},{"x":1380,"y":2.56,"x2":8521,"y2":2.77},{"x":1697,"y":2.2,"x2":8013,"y2":2.69},{"x":825,"y":0.56,"x2":4792,"y2":2.41},{"x":1301,"y":0.87,"x2":4950,"y2":2.2},{"x":1777,"y":0.51,"x2":2697,"y2":0.72},{"x":983,"y":1.92,"x2":2412,"y2":1.88},{"x":3046,"y":1.33,"x2":5268,"y2":1.28},{"x":3840,"y":1.57,"x2":5426,"y2":1.57},{"x":4475,"y":1.23,"x2":6141,"y2":1.2},{"x":666,"y":1.64,"x2":1857,"y2":1.69},{"x":3523,"y":2.97,"x2":4395,"y2":2.97},{"x":3512,"y":2.6,"x2":6934,"y2":2.55},{"x":900,"y":2.4,"x2":3332,"y2":2.35},{"x":2431,"y":2.0,"x2":5403,"y2":2.15},{"x":1351,"y":2.1,"x2":4503,"y2":2.5}]
},
"concat":[
{"width":190,"height":178,"layer":[
 {"data":{"name":"p1"},"mark":{"type":"circle","size":40,"color":"#add8e6","opacity":1},"encoding":{"x":{"field":"x","type":"quantitative","title":"CholicAcid","scale":{"domain":[-8,425],"nice":false,"zero":false},"axis":{"values":[0,100,200,300,400],"tickCount":12,"labelOverlap":false,"labelExpr":"'' + datum.value"}},"y":{"field":"y","type":"quantitative","title":"logDX/DM","scale":{"domain":[-1.25,4.25],"nice":false,"zero":false},"axis":{"values":[-1,0,1,2,3,4],"tickCount":12,"labelOverlap":false,"labelExpr":"'' + datum.value"}}}},
 {"data":{"name":"l1"},"mark":{"type":"rule","color":"midnightblue","strokeWidth":1.1},"encoding":{"x":{"field":"x","type":"quantitative","title":"CholicAcid"},"y":{"field":"y","type":"quantitative","title":"logDX/DM"},"x2":{"field":"x2"},"y2":{"field":"y2"}}},
 {"data":{"values":[{"label":"P-value = 0.368"}]},"mark":{"type":"text","fontSize":14,"align":"center","baseline":"middle","color":"#000000"},"encoding":{"x":{"datum":280,"type":"quantitative"},"y":{"datum":0,"type":"quantitative"},"text":{"field":"label"}}}
]},
{"width":190,"height":178,"layer":[
 {"data":{"name":"p2"},"mark":{"type":"circle","size":40,"color":"#add8e6","opacity":1},"encoding":{"x":{"field":"x","type":"quantitative","title":"CDCA","scale":{"domain":[-33,1200],"nice":false,"zero":false},"axis":{"values":[0,300,600,900,1200],"tickCount":12,"labelOverlap":false,"labelExpr":"'' + datum.value"}},"y":{"field":"y","type":"quantitative","title":"logDX/DM","scale":{"domain":[-1.25,4.25],"nice":false,"zero":false},"axis":{"values":[-1,0,1,2,3,4],"tickCount":12,"labelOverlap":false,"labelExpr":"'' + datum.value"}}}},
 {"data":{"name":"l2"},"mark":{"type":"rule","color":"midnightblue","strokeWidth":1.1},"encoding":{"x":{"field":"x","type":"quantitative","title":"CDCA"},"y":{"field":"y","type":"quantitative","title":"logDX/DM"},"x2":{"field":"x2"},"y2":{"field":"y2"}}},
 {"data":{"values":[{"label":"P-value = 0.147"}]},"mark":{"type":"text","fontSize":14,"align":"center","baseline":"middle","color":"#000000"},"encoding":{"x":{"datum":799,"type":"quantitative"},"y":{"datum":0,"type":"quantitative"},"text":{"field":"label"}}}
]},
{"width":190,"height":178,"layer":[
 {"data":{"name":"p3"},"mark":{"type":"circle","size":40,"color":"#add8e6","opacity":1},"encoding":{"x":{"field":"x","type":"quantitative","title":"DCA","scale":{"domain":[-65,1890],"nice":false,"zero":false},"axis":{"values":[0,500,1000,1500],"tickCount":12,"labelOverlap":false,"labelExpr":"'' + datum.value"}},"y":{"field":"y","type":"quantitative","title":"logDX/DM","scale":{"domain":[-1.25,4.25],"nice":false,"zero":false},"axis":{"values":[-1,0,1,2,3,4],"tickCount":12,"labelOverlap":false,"labelExpr":"'' + datum.value"}}}},
 {"data":{"name":"l3"},"mark":{"type":"rule","color":"midnightblue","strokeWidth":1.1},"encoding":{"x":{"field":"x","type":"quantitative","title":"DCA"},"y":{"field":"y","type":"quantitative","title":"logDX/DM"},"x2":{"field":"x2"},"y2":{"field":"y2"}}},
 {"data":{"values":[{"label":"P-value = 0.378"}]},"mark":{"type":"text","fontSize":14,"align":"center","baseline":"middle","color":"#000000"},"encoding":{"x":{"datum":890,"type":"quantitative"},"y":{"datum":0,"type":"quantitative"},"text":{"field":"label"}}}
]},
{"width":190,"height":178,"layer":[
 {"data":{"name":"p4"},"mark":{"type":"circle","size":40,"color":"#add8e6","opacity":1},"encoding":{"x":{"field":"x","type":"quantitative","title":"TCA","scale":{"domain":[-70,1805],"nice":false,"zero":false},"axis":{"values":[0,500,1000,1500],"tickCount":12,"labelOverlap":false,"labelExpr":"'' + datum.value"}},"y":{"field":"y","type":"quantitative","title":"logDX/DM","scale":{"domain":[-1.25,4.25],"nice":false,"zero":false},"axis":{"values":[-1,0,1,2,3,4],"tickCount":12,"labelOverlap":false,"labelExpr":"'' + datum.value"}}}},
 {"data":{"name":"l4"},"mark":{"type":"rule","color":"midnightblue","strokeWidth":1.1},"encoding":{"x":{"field":"x","type":"quantitative","title":"TCA"},"y":{"field":"y","type":"quantitative","title":"logDX/DM"},"x2":{"field":"x2"},"y2":{"field":"y2"}}},
 {"data":{"values":[{"label":"P-value = 0.00231"}]},"mark":{"type":"text","fontSize":14,"align":"center","baseline":"middle","color":"#000000"},"encoding":{"x":{"datum":1197,"type":"quantitative"},"y":{"datum":0,"type":"quantitative"},"text":{"field":"label"}}}
]},
{"width":190,"height":178,"layer":[
 {"data":{"name":"p5"},"mark":{"type":"circle","size":40,"color":"#add8e6","opacity":1},"encoding":{"x":{"field":"x","type":"quantitative","title":"TCDCA","scale":{"domain":[-46,1297],"nice":false,"zero":false},"axis":{"values":[0,250,500,750,1000,1250],"tickCount":12,"labelOverlap":false,"labelExpr":"'' + datum.value"}},"y":{"field":"y","type":"quantitative","title":"logDX/DM","scale":{"domain":[-1.25,4.25],"nice":false,"zero":false},"axis":{"values":[-1,0,1,2,3,4],"tickCount":12,"labelOverlap":false,"labelExpr":"'' + datum.value"}}}},
 {"data":{"name":"l5"},"mark":{"type":"rule","color":"midnightblue","strokeWidth":1.1},"encoding":{"x":{"field":"x","type":"quantitative","title":"TCDCA"},"y":{"field":"y","type":"quantitative","title":"logDX/DM"},"x2":{"field":"x2"},"y2":{"field":"y2"}}},
 {"data":{"values":[{"label":"P-value = 0.198"}]},"mark":{"type":"text","fontSize":14,"align":"center","baseline":"middle","color":"#000000"},"encoding":{"x":{"datum":601,"type":"quantitative"},"y":{"datum":0,"type":"quantitative"},"text":{"field":"label"}}}
]},
{"width":190,"height":178,"layer":[
 {"data":{"name":"p6"},"mark":{"type":"circle","size":40,"color":"#add8e6","opacity":1},"encoding":{"x":{"field":"x","type":"quantitative","title":"TDCA","scale":{"domain":[-40,1060],"nice":false,"zero":false},"axis":{"values":[0,250,500,750,1000],"tickCount":12,"labelOverlap":false,"labelExpr":"'' + datum.value"}},"y":{"field":"y","type":"quantitative","title":"logDX/DM","scale":{"domain":[-1.25,4.25],"nice":false,"zero":false},"axis":{"values":[-1,0,1,2,3,4],"tickCount":12,"labelOverlap":false,"labelExpr":"'' + datum.value"}}}},
 {"data":{"name":"l6"},"mark":{"type":"rule","color":"midnightblue","strokeWidth":1.1},"encoding":{"x":{"field":"x","type":"quantitative","title":"TDCA"},"y":{"field":"y","type":"quantitative","title":"logDX/DM"},"x2":{"field":"x2"},"y2":{"field":"y2"}}},
 {"data":{"values":[{"label":"P-value = 0.0776"}]},"mark":{"type":"text","fontSize":14,"align":"center","baseline":"middle","color":"#000000"},"encoding":{"x":{"datum":502,"type":"quantitative"},"y":{"datum":0,"type":"quantitative"},"text":{"field":"label"}}}
]},
{"width":190,"height":178,"layer":[
 {"data":{"name":"p7"},"mark":{"type":"circle","size":40,"color":"#add8e6","opacity":1},"encoding":{"x":{"field":"x","type":"quantitative","title":"GCA","scale":{"domain":[-70,2480],"nice":false,"zero":false},"axis":{"values":[0,500,1000,1500,2000],"tickCount":12,"labelOverlap":false,"labelExpr":"'' + datum.value"}},"y":{"field":"y","type":"quantitative","title":"logDX/DM","scale":{"domain":[-1.25,4.25],"nice":false,"zero":false},"axis":{"values":[-1,0,1,2,3,4],"tickCount":12,"labelOverlap":false,"labelExpr":"'' + datum.value"}}}},
 {"data":{"name":"l7"},"mark":{"type":"rule","color":"midnightblue","strokeWidth":1.1},"encoding":{"x":{"field":"x","type":"quantitative","title":"GCA"},"y":{"field":"y","type":"quantitative","title":"logDX/DM"},"x2":{"field":"x2"},"y2":{"field":"y2"}}},
 {"data":{"values":[{"label":"P-value = 0.311"}]},"mark":{"type":"text","fontSize":14,"align":"center","baseline":"middle","color":"#000000"},"encoding":{"x":{"datum":1202,"type":"quantitative"},"y":{"datum":0,"type":"quantitative"},"text":{"field":"label"}}}
]},
{"width":190,"height":178,"layer":[
 {"data":{"name":"p8"},"mark":{"type":"circle","size":40,"color":"#add8e6","opacity":1},"encoding":{"x":{"field":"x","type":"quantitative","title":"GCDCA","scale":{"domain":[-54,3075],"nice":false,"zero":false},"axis":{"values":[0,1000,2000,3000],"tickCount":12,"labelOverlap":false,"labelExpr":"'' + datum.value"}},"y":{"field":"y","type":"quantitative","title":"logDX/DM","scale":{"domain":[-1.25,4.25],"nice":false,"zero":false},"axis":{"values":[-1,0,1,2,3,4],"tickCount":12,"labelOverlap":false,"labelExpr":"'' + datum.value"}}}},
 {"data":{"name":"l8"},"mark":{"type":"rule","color":"midnightblue","strokeWidth":1.1},"encoding":{"x":{"field":"x","type":"quantitative","title":"GCDCA"},"y":{"field":"y","type":"quantitative","title":"logDX/DM"},"x2":{"field":"x2"},"y2":{"field":"y2"}}},
 {"data":{"values":[{"label":"P-value = 0.164"}]},"mark":{"type":"text","fontSize":14,"align":"center","baseline":"middle","color":"#000000"},"encoding":{"x":{"datum":1194,"type":"quantitative"},"y":{"datum":0,"type":"quantitative"},"text":{"field":"label"}}}
]},
{"width":190,"height":178,"layer":[
 {"data":{"name":"p9"},"mark":{"type":"circle","size":40,"color":"#add8e6","opacity":1},"encoding":{"x":{"field":"x","type":"quantitative","title":"GDCA","scale":{"domain":[-90,2555],"nice":false,"zero":false},"axis":{"values":[0,500,1000,1500,2000,2500],"tickCount":12,"labelOverlap":false,"labelExpr":"'' + datum.value"}},"y":{"field":"y","type":"quantitative","title":"logDX/DM","scale":{"domain":[-1.25,4.25],"nice":false,"zero":false},"axis":{"values":[-1,0,1,2,3,4],"tickCount":12,"labelOverlap":false,"labelExpr":"'' + datum.value"}}}},
 {"data":{"name":"l9"},"mark":{"type":"rule","color":"midnightblue","strokeWidth":1.1},"encoding":{"x":{"field":"x","type":"quantitative","title":"GDCA"},"y":{"field":"y","type":"quantitative","title":"logDX/DM"},"x2":{"field":"x2"},"y2":{"field":"y2"}}},
 {"data":{"values":[{"label":"P-value = 0.884"}]},"mark":{"type":"text","fontSize":14,"align":"center","baseline":"middle","color":"#000000"},"encoding":{"x":{"datum":1199,"type":"quantitative"},"y":{"datum":0,"type":"quantitative"},"text":{"field":"label"}}}
]},
{"width":190,"height":178,"layer":[
 {"data":{"name":"p10"},"mark":{"type":"circle","size":40,"color":"#add8e6","opacity":1},"encoding":{"x":{"field":"x","type":"quantitative","title":"TotalBileAcid","scale":{"domain":[-320,8870],"nice":false,"zero":false},"axis":{"values":[0,2000,4000,6000,8000],"tickCount":12,"labelOverlap":false,"labelExpr":"'' + datum.value"}},"y":{"field":"y","type":"quantitative","title":"logDX/DM","scale":{"domain":[-1.25,4.25],"nice":false,"zero":false},"axis":{"values":[-1,0,1,2,3,4],"tickCount":12,"labelOverlap":false,"labelExpr":"'' + datum.value"}}}},
 {"data":{"name":"l10"},"mark":{"type":"rule","color":"midnightblue","strokeWidth":1.1},"encoding":{"x":{"field":"x","type":"quantitative","title":"TotalBileAcid"},"y":{"field":"y","type":"quantitative","title":"logDX/DM"},"x2":{"field":"x2"},"y2":{"field":"y2"}}},
 {"data":{"values":[{"label":"P-value = 0.938"}]},"mark":{"type":"text","fontSize":14,"align":"center","baseline":"middle","color":"#000000"},"encoding":{"x":{"datum":5982,"type":"quantitative"},"y":{"datum":0,"type":"quantitative"},"text":{"field":"label"}}}
]}
]
}
